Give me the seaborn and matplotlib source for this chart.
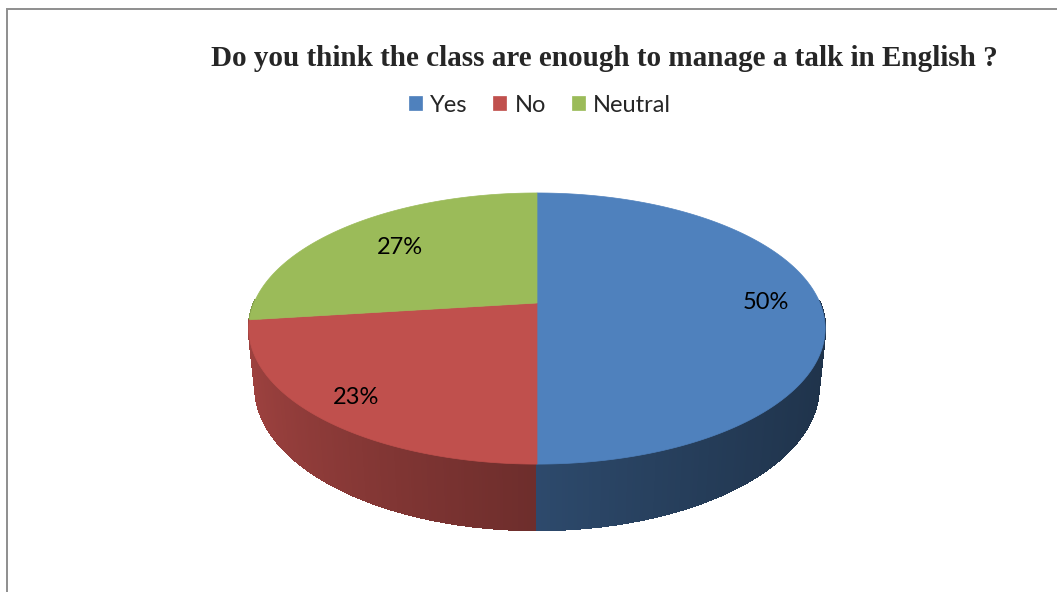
import numpy as np
import matplotlib
matplotlib.use("Agg")
import matplotlib.pyplot as plt
from matplotlib.patches import Polygon, Rectangle
from matplotlib.collections import PolyCollection
from matplotlib.colors import to_rgb
import seaborn as sns

# Survey answers
categories = ["Yes", "No", "Neutral"]
shares = [50, 23, 27]
slice_colors = ["#4F81BD", "#C0504D", "#9BBB59"]
title = "Do you think the class are enough to manage a talk in English ?"

sns.set_theme(style="white")
plt.rcParams["font.family"] = ["Lato", "DejaVu Sans"]

W, H = 1057, 592
fig = plt.figure(figsize=(W / 100, H / 100), dpi=100)
fig.patch.set_facecolor("white")

# Radius of the disc in pixels (horizontal / vertical) and its centre
R_PX_X = 283.0
R_PX_Y = 288.0
CX, CY = 537.0, 303.0
ax = fig.add_axes([0, 0, 1, 1])
ax.set_xlim(-CX / R_PX_X, (W - CX) / R_PX_X)
ax.set_ylim(-(H - CY) / R_PX_Y, CY / R_PX_Y)
ax.set_axis_off()

# Camera: tilt and perspective distance, disc thickness
sin_e = 0.454
cos_e = np.sqrt(1 - sin_e ** 2)
FOCAL = 4.73
DEPTH = 0.228


def project(X, Y, Z):
    v = Y * sin_e + Z * cos_e
    w = Y * cos_e - Z * sin_e
    s = FOCAL / (FOCAL + w)
    return X * s, v * s


def shade(rgb, nx):
    k = 0.57 - 0.22 * nx + 0.04 * nx ** 2
    return tuple(np.clip(np.array(rgb) * k, 0, 1))


total = float(sum(shares))
bounds = np.concatenate([[0.0], np.cumsum(shares) / total * 2 * np.pi])

# Side wall: thin quads on the visible (front) half, back to front
quads, qcolors, qdepth = [], [], []
for i, col in enumerate(slice_colors):
    rgb = to_rgb(col)
    a0, a1 = bounds[i], bounds[i + 1]
    n = max(int(np.degrees(a1 - a0) * 2), 2)
    th = np.linspace(a0, a1, n + 1)
    for t0, t1 in zip(th[:-1], th[1:]):
        tm = 0.5 * (t0 + t1)
        if np.cos(tm) > 0.02:
            continue
        pts = []
        for t, z in ((t0, 0), (t1, 0), (t1, -DEPTH), (t0, -DEPTH)):
            pts.append(project(np.sin(t), np.cos(t), z))
        quads.append(pts)
        qcolors.append(shade(rgb, np.sin(tm)))
        qdepth.append(np.cos(tm))
order = np.argsort(qdepth)[::-1]
side = PolyCollection([quads[k] for k in order],
                      facecolors=[qcolors[k] for k in order],
                      edgecolors=[qcolors[k] for k in order],
                      linewidths=1.0, antialiased=False, zorder=2)
ax.add_collection(side)

# Top faces
handles = []
for i, col in enumerate(slice_colors):
    a0, a1 = bounds[i], bounds[i + 1]
    th = np.linspace(a0, a1, 300)
    xs, ys = project(np.sin(th), np.cos(th), 0.0)
    pts = np.vstack([[0.0, 0.0], np.column_stack([xs, ys])])
    poly = Polygon(pts, closed=True, facecolor=col, edgecolor=col,
                   linewidth=0.5, zorder=3, label=categories[i])
    ax.add_patch(poly)
    handles.append(poly)

# Percentage labels
label_radius = [0.81, 0.85, 0.70]
for i, v in enumerate(shares):
    tm = 0.5 * (bounds[i] + bounds[i + 1])
    r = label_radius[i]
    lx, ly = project(r * np.sin(tm), r * np.cos(tm), 0.0)
    ax.text(lx, ly, f"{v}%", ha="center", va="center", fontsize=17,
            color="black", zorder=5)

# Title and legend
fig.text(604 / W, 1 - 59 / H, title, ha="center", va="center",
         fontsize=21, fontweight="bold", family=["Liberation Serif"])
fig.legend(handles=handles, labels=categories, loc="center",
           bbox_to_anchor=(540 / W, 1 - 105 / H), ncol=3, frameon=False,
           fontsize=17, handlelength=0.55, handleheight=0.55,
           handletextpad=0.35, columnspacing=1.1, borderaxespad=0)

# Chart area frame
fig.patches.append(Rectangle((6.5 / W, -0.1), 1.2, 1 - 8.5 / H + 0.1,
                             transform=fig.transFigure, fill=False,
                             edgecolor="#8E8E8E", linewidth=1.4))

fig.savefig("out.png", dpi=100, facecolor="white")
